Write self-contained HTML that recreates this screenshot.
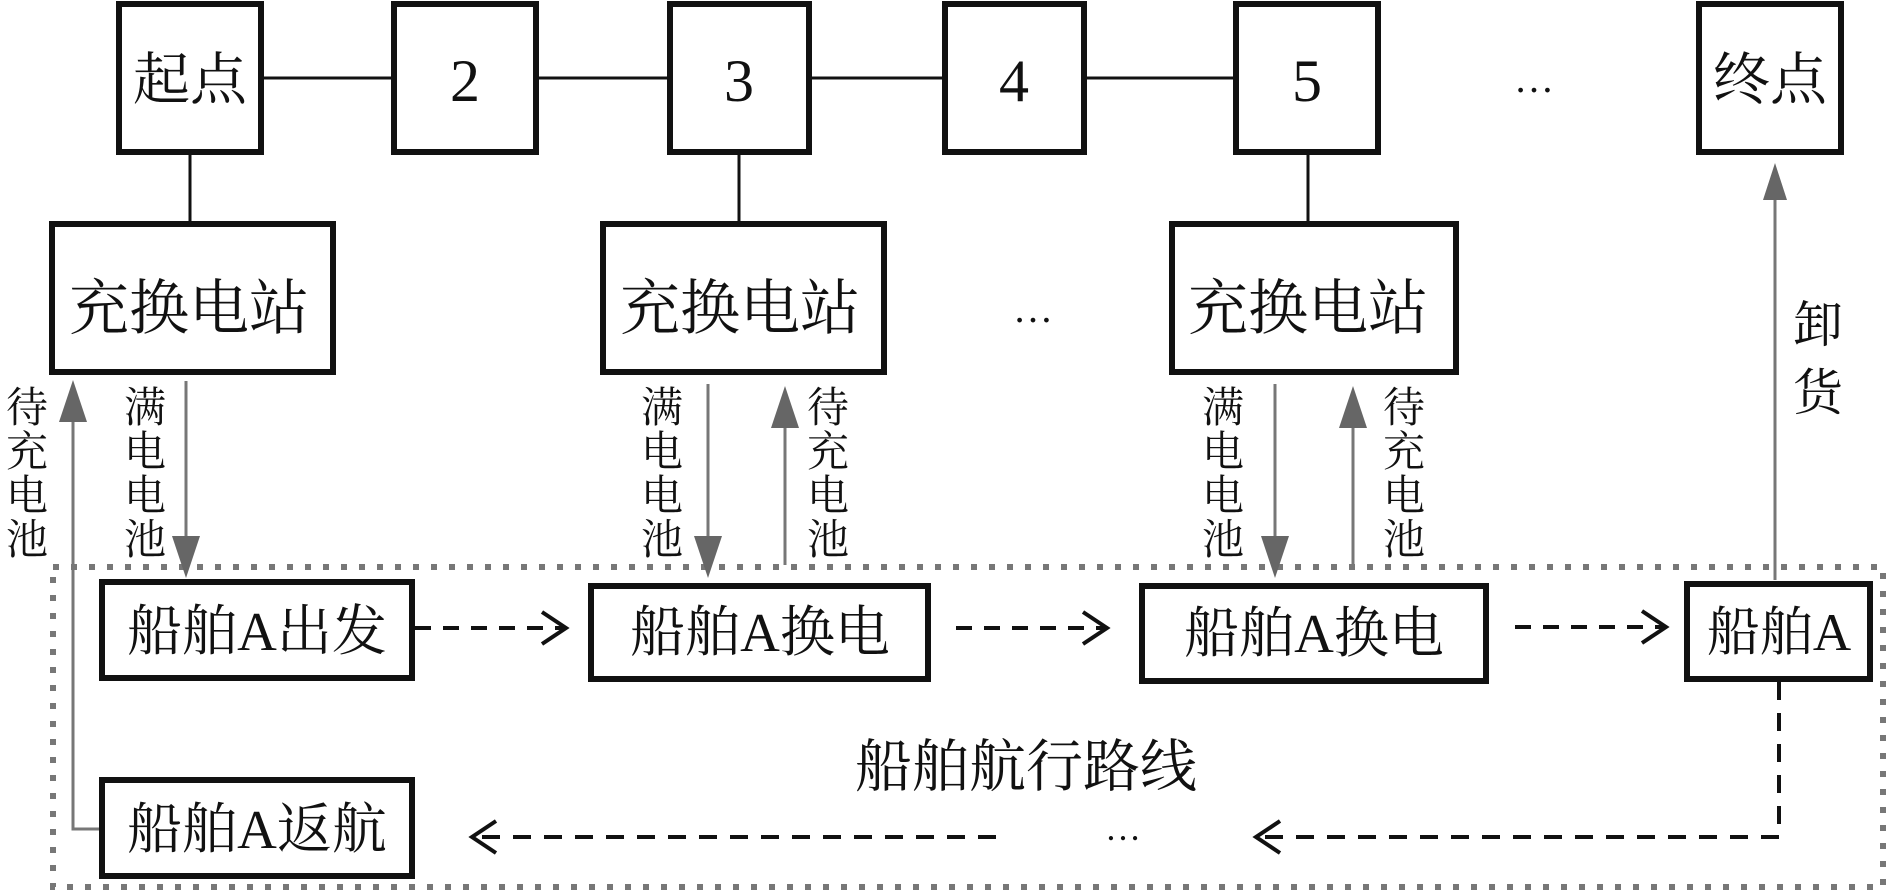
<!DOCTYPE html>
<html><head><meta charset="utf-8"><style>
html,body{margin:0;padding:0;background:#fff;}
svg{display:block;}
text{font-family:"Liberation Serif","Noto Serif CJK SC","Noto Sans CJK SC",serif;fill:#111;}
</style></head><body>
<svg width="1890" height="891" viewBox="0 0 1890 891" xmlns="http://www.w3.org/2000/svg">
<line x1="262" y1="78" x2="1234" y2="78" stroke="#111" stroke-width="3"/>
<line x1="190" y1="153" x2="190" y2="222" stroke="#111" stroke-width="3"/>
<line x1="739" y1="153" x2="739" y2="222" stroke="#111" stroke-width="3"/>
<line x1="1308" y1="153" x2="1308" y2="222" stroke="#111" stroke-width="3"/>
<g fill="#fff" stroke="#111" stroke-width="6">
<rect x="119" y="4" width="142" height="148"/>
<rect x="394" y="4" width="142" height="148"/>
<rect x="670" y="4" width="139" height="148"/>
<rect x="945" y="4" width="139" height="148"/>
<rect x="1236" y="4" width="142" height="148"/>
<rect x="1699" y="4" width="142" height="148"/>
<rect x="52" y="224" width="281" height="148"/>
<rect x="603" y="224" width="281" height="148"/>
<rect x="1172" y="224" width="284" height="148"/>
</g>
<g font-size="57" text-anchor="middle">
<text x="190" y="99">起点</text>
<text x="465" y="101" font-size="60">2</text>
<text x="739" y="101" font-size="60">3</text>
<text x="1014" y="101" font-size="60">4</text>
<text x="1307" y="101" font-size="60">5</text>
<text x="1770" y="99">终点</text>
<text x="189" y="329" font-size="60">充换电站</text>
<text x="740" y="329" font-size="60">充换电站</text>
<text x="1308" y="329" font-size="60">充换电站</text>
</g>
<text x="1534" y="92" font-size="40" text-anchor="middle">…</text>
<text x="1033" y="322" font-size="40" text-anchor="middle">…</text>

<rect x="53" y="567" width="1830" height="320" fill="none" stroke="#777" stroke-width="6" stroke-dasharray="6 12"/>

<g stroke="#777" stroke-width="3" fill="none">
<polyline points="100,829 73,829 73,420"/>
<line x1="186" y1="381" x2="186" y2="540"/>
<line x1="708" y1="384" x2="708" y2="540"/>
<line x1="785" y1="565" x2="785" y2="425"/>
<line x1="1275" y1="384" x2="1275" y2="540"/>
<line x1="1353" y1="565" x2="1353" y2="425"/>
<line x1="1775" y1="580" x2="1775" y2="200"/>
</g>
<g fill="#666">
<polygon points="73,380 59,422 87,422"/>
<polygon points="186,578 172,536 200,536"/>
<polygon points="708,578 694,536 722,536"/>
<polygon points="785,386 771,428 799,428"/>
<polygon points="1275,578 1261,536 1289,536"/>
<polygon points="1353,386 1339,428 1367,428"/>
<polygon points="1775,163 1763,200 1787,200"/>
</g>
<g font-size="42" text-anchor="middle">
<text x="27" y="422">待</text><text x="27" y="466">充</text><text x="27" y="510">电</text><text x="27" y="554">池</text>
<text x="145" y="422">满</text><text x="145" y="466">电</text><text x="145" y="510">电</text><text x="145" y="554">池</text>
<text x="662" y="422">满</text><text x="662" y="466">电</text><text x="662" y="510">电</text><text x="662" y="554">池</text>
<text x="828" y="422">待</text><text x="828" y="466">充</text><text x="828" y="510">电</text><text x="828" y="554">池</text>
<text x="1223" y="422">满</text><text x="1223" y="466">电</text><text x="1223" y="510">电</text><text x="1223" y="554">池</text>
<text x="1404" y="422">待</text><text x="1404" y="466">充</text><text x="1404" y="510">电</text><text x="1404" y="554">池</text>
<text x="1818" y="342" font-size="50">卸</text><text x="1818" y="410" font-size="50">货</text>
</g>

<g fill="#fff" stroke="#111" stroke-width="6">
<rect x="102" y="582" width="310" height="96"/>
<rect x="591" y="586" width="337" height="93"/>
<rect x="1142" y="586" width="344" height="95"/>
<rect x="1687" y="584" width="183" height="95"/>
<rect x="102" y="780" width="310" height="96"/>
</g>
<g font-size="55" text-anchor="middle">
<text x="257" y="650">船舶A出发</text>
<text x="760" y="651">船舶A换电</text>
<text x="1314" y="652">船舶A换电</text>
<text x="1779" y="650" font-size="53">船舶A</text>
<text x="257" y="848">船舶A返航</text>
<text x="1026" y="786" font-size="57">船舶航行路线</text>
</g>
<text x="1123" y="840" font-size="36" text-anchor="middle">…</text>

<g stroke="#111" stroke-width="4" fill="none">
<line x1="415" y1="628" x2="565" y2="628" stroke-dasharray="16 12"/>
<polyline points="542,612 566,628 542,644"/>
<line x1="956" y1="628" x2="1106" y2="628" stroke-dasharray="16 12"/>
<polyline points="1083,612 1107,628 1083,644"/>
<line x1="1515" y1="627" x2="1665" y2="627" stroke-dasharray="16 12"/>
<polyline points="1642,611 1666,627 1642,643"/>
<polyline points="1779,682 1779,837 1258,837" stroke-dasharray="18 13"/>
<polyline points="1280,821 1256,837 1280,853"/>
<line x1="996" y1="837" x2="473" y2="837" stroke-dasharray="18 13"/>
<polyline points="496,821 472,837 496,853"/>
</g>
</svg>
</body></html>
